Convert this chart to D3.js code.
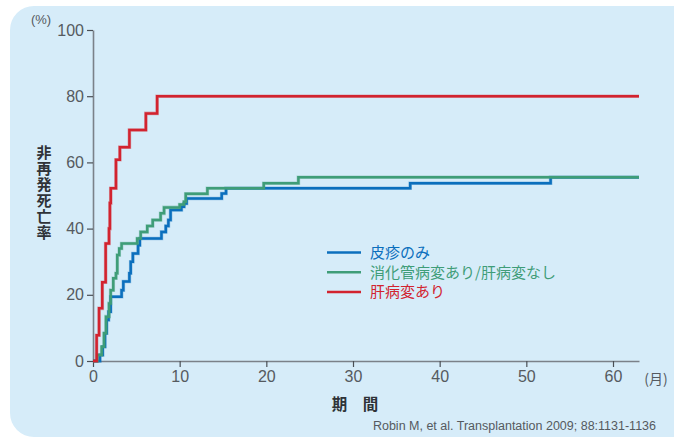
<!DOCTYPE html>
<html>
<head>
<meta charset="utf-8">
<script src="https://cdn.jsdelivr.net/npm/d3@7"></script>
<style>
  html, body { margin: 0; padding: 0; background: #ffffff; }
  svg { display: block; }
</style>
</head>
<body>
<svg id="chart" width="674" height="439"></svg>
<script>
// Cumulative incidence step curves (months, %)
const seriesNames = ["皮疹のみ", "消化管病変あり/肝病変なし", "肝病変あり"];
const seriesColors = ["#0b6fbd", "#3f9d78", "#d2232f"];

const skinTimes = [0, 0.8, 1.12, 1.38, 1.58, 1.8, 2.04, 3.3, 3.5, 4.2, 4.35, 4.6, 5.2, 5.4, 7.9, 8.4, 8.7, 8.95, 10.2, 10.5, 10.8, 14.85, 15.35, 36.6, 52.8, 63];
const skinValues = [0, 1.8, 4.3, 8.4, 12.4, 14.9, 19.4, 21.4, 24.0, 26.5, 30.0, 32.5, 35.0, 37.0, 39.0, 40.8, 42.6, 45.6, 46.6, 47.6, 49.1, 50.6, 52.2, 53.7, 55.5, 55.5];

const gutTimes = [0, 0.5, 1.0, 1.27, 1.5, 1.85, 2.04, 2.34, 2.65, 2.8, 3.03, 3.3, 5.1, 5.5, 6.26, 6.89, 7.8, 8.2, 10.0, 10.5, 10.7, 13.2, 19.7, 23.7, 63];
const gutValues = [0, 1.8, 4.3, 8.4, 13.4, 17.4, 21.4, 25.0, 26.5, 32.0, 34.0, 35.5, 37.0, 39.0, 40.8, 42.6, 44.6, 46.4, 47.3, 48.1, 50.5, 52.2, 53.7, 55.5, 55.5];

const liverTimes = [0, 0.42, 0.7, 1.07, 1.46, 1.85, 1.95, 2.05, 2.65, 3.1, 4.2, 6.1, 7.4, 63];
const liverValues = [0, 7.8, 15.9, 23.8, 35.5, 40.0, 47.7, 52.2, 60.8, 64.6, 69.8, 74.8, 80.0, 80.0];

const xTicks = [0, 10, 20, 30, 40, 50, 60];
const yTicks = [0, 20, 40, 60, 80, 100];

const svg = d3.select("#chart");
const latin = "'Liberation Sans', Arial, Helvetica, sans-serif";
const cjk = "'Noto Sans CJK JP', 'Noto Sans', sans-serif";

// Panel background
svg.append("rect")
  .attr("x", 10).attr("y", 6)
  .attr("width", 690).attr("height", 431)
  .attr("rx", 24).attr("ry", 24)
  .attr("fill", "#d6ecf9");

const x = d3.scaleLinear().domain([0, 63]).range([93, 639]);
const y = d3.scaleLinear().domain([0, 100]).range([361, 30]);

const axisColor = "#7b8189";
const labelColor = "#555a60";

// Y axis
const gy = svg.append("g")
  .attr("transform", `translate(${x(0)},0)`)
  .call(d3.axisLeft(y).tickValues(yTicks).tickSize(6).tickSizeOuter(0).tickPadding(3));
gy.select(".domain").attr("stroke", axisColor).attr("stroke-width", 1.6);
gy.selectAll(".tick line").attr("stroke", "#4a4f55").attr("stroke-width", 1.2);
gy.selectAll(".tick text")
  .attr("fill", labelColor)
  .style("font-family", latin)
  .style("font-size", "16px");

// X axis
const gx = svg.append("g")
  .attr("transform", `translate(0,${y(0)})`)
  .call(d3.axisBottom(x).tickValues(xTicks).tickSize(6).tickSizeOuter(0).tickPadding(4));
gx.select(".domain").attr("stroke", axisColor).attr("stroke-width", 1.6);
gx.selectAll(".tick line").attr("stroke", "#4a4f55").attr("stroke-width", 1.2);
gx.selectAll(".tick text")
  .attr("fill", labelColor)
  .style("font-family", latin)
  .style("font-size", "16px");

// Unit labels
svg.append("text")
  .attr("x", 41).attr("y", 24)
  .attr("text-anchor", "middle")
  .attr("fill", labelColor)
  .style("font-family", latin)
  .style("font-size", "13px")
  .text("(%)");

svg.append("text")
  .attr("x", 656).attr("y", 384)
  .attr("text-anchor", "middle")
  .attr("fill", labelColor)
  .style("font-family", cjk)
  .style("font-size", "14px")
  .text("(月)");

// Y axis title, set in vertical writing mode
svg.append("text")
  .attr("x", 44).attr("y", 145)
  .attr("fill", "#2f3338")
  .style("font-family", cjk)
  .style("font-weight", "600")
  .style("font-size", "15px")
  .style("writing-mode", "vertical-rl")
  .style("text-orientation", "upright")
  .style("letter-spacing", "1px")
  .text("非再発死亡率");

// X axis title
svg.append("text")
  .attr("x", 355).attr("y", 410)
  .attr("text-anchor", "middle")
  .attr("fill", "#2f3338")
  .style("font-family", cjk)
  .style("font-weight", "600")
  .style("font-size", "15.5px")
  .text("期　間");

// Source
svg.append("text")
  .attr("x", 656).attr("y", 430)
  .attr("text-anchor", "end")
  .attr("fill", labelColor)
  .style("font-family", latin)
  .style("font-size", "12.5px")
  .text("Robin M, et al. Transplantation 2009; 88:1131-1136");

// Step curves
const series = [
  { times: skinTimes, values: skinValues },
  { times: gutTimes, values: gutValues },
  { times: liverTimes, values: liverValues }
];

const line = d3.line()
  .x(d => x(d[0]))
  .y(d => y(d[1]))
  .curve(d3.curveStepAfter);

series.forEach((s, i) => {
  const pts = s.times.map((t, j) => [t, s.values[j]]);
  svg.append("path")
    .datum(pts)
    .attr("fill", "none")
    .attr("stroke", seriesColors[i])
    .attr("stroke-opacity", 0.35)
    .attr("stroke-width", 3.6)
    .attr("d", line);
  svg.append("path")
    .datum(pts)
    .attr("fill", "none")
    .attr("stroke", seriesColors[i])
    .attr("stroke-width", 2.5)
    .attr("d", line);
});

// Legend
const legend = svg.append("g");
seriesNames.forEach((name, i) => {
  const ly = 252.5 + i * 19.7;
  legend.append("line")
    .attr("x1", 327).attr("x2", 361)
    .attr("y1", ly).attr("y2", ly)
    .attr("stroke", seriesColors[i])
    .attr("stroke-width", 2.5);
  legend.append("text")
    .attr("x", 370).attr("y", ly + 5.5)
    .attr("fill", seriesColors[i])
    .style("font-family", cjk)
    .style("font-size", "15px")
    .text(name);
});
</script>
</body>
</html>
